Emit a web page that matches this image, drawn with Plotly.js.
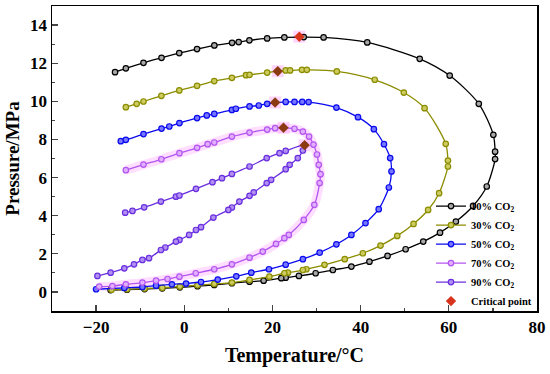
<!DOCTYPE html>
<html>
<head>
<meta charset="utf-8">
<script src="https://cdn.plot.ly/plotly-3.0.1.min.js"></script>
<style>html,body{margin:0;padding:0;background:#fff}#chart{width:550px;height:374px}</style>
</head>
<body>
<div id="chart"></div>
<script>
// 10% CO2
var t10 = [-15.7,-13.25,-9.25,-5.16,-1.14,2.89,6.82,10.84,12.34,14.77,18.8,22.7,27.1,31.6,41.5,53.4,60.2,66.8,70.1,70.5,70.5,68.6,65.5,61.6,58.0,54.2,50.2,46.1,42.0,37.9,33.7,29.8,26.0,23.0,22.0,18.0,14.8,10.8,6.8,3.0,-1.0,-5.0,-9.0,-13.0,-16.7];
var p10 = [11.53,11.73,12.02,12.28,12.53,12.74,12.93,13.07,13.11,13.2,13.3,13.35,13.37,13.35,13.09,12.23,11.35,9.87,8.24,7.36,6.97,5.53,4.51,3.69,3.11,2.64,2.24,1.89,1.59,1.33,1.15,0.98,0.84,0.75,0.72,0.59,0.54,0.46,0.37,0.3,0.24,0.19,0.15,0.12,0.1];
// 30% CO2
var t30 = [-13.25,-10.8,-9.25,-5.2,-1.14,2.9,6.8,10.8,14.0,14.8,18.8,23.0,24.0,26.7,27.8,34.6,43.2,49.8,54.5,59.3,59.8,59.8,57.8,55.3,52.0,48.3,44.5,40.5,36.4,31.8,27.7,26.9,23.5,22.7,19.3,14.8,10.8,6.8,3.0,-1.0,-5.0,-9.0,-13.0,-16.5];
var p30 = [9.69,9.87,9.99,10.29,10.57,10.81,11.06,11.23,11.37,11.39,11.51,11.62,11.62,11.65,11.65,11.57,11.13,10.46,9.64,7.77,6.89,6.58,5.18,4.3,3.57,2.94,2.43,2.03,1.72,1.42,1.19,1.15,1.01,0.98,0.8,0.63,0.49,0.42,0.35,0.28,0.22,0.18,0.14,0.12];
// 50% CO2
var t50 = [-14.4,-13.25,-9.25,-5.16,-3.4,-1.1,2.9,5.1,6.8,10.8,11.7,14.8,16.9,18.8,23.0,25.0,26.75,28.2,34.5,39.4,43.0,45.3,46.7,47.0,46.4,44.1,41.1,37.9,34.5,30.7,26.9,23.0,19.2,15.2,11.8,7.6,3.8,0.4,-2.8,-6.4,-9.5,-13.6,-20];
var p50 = [7.91,7.98,8.28,8.57,8.68,8.86,9.12,9.26,9.34,9.55,9.61,9.73,9.78,9.87,9.97,9.97,9.97,9.96,9.67,9.17,8.54,7.75,7.02,6.32,5.48,4.34,3.61,2.99,2.5,2.06,1.72,1.43,1.19,1.01,0.82,0.65,0.52,0.44,0.4,0.33,0.26,0.21,0.14];
// 70% CO2
var t70 = [-13.25,-9.25,-5.2,-1.1,2.9,5.3,6.8,10.8,14.8,18.8,20.6,25.0,26.9,28.3,29.3,30.1,30.5,30.9,30.7,29.5,27.1,23.7,22.7,20.8,17.8,14.8,10.8,6.8,2.6,-1.1,-3.8,-6.4,-9.5,-13.25,-16.3,-19.3];
var p70 = [6.39,6.68,6.96,7.28,7.56,7.75,7.84,8.15,8.36,8.52,8.59,8.56,8.41,8.15,7.73,7.21,6.67,6.18,5.71,4.57,3.78,2.99,2.82,2.52,2.12,1.8,1.45,1.19,0.98,0.8,0.68,0.59,0.49,0.4,0.31,0.28];
// 90% CO2
var t90 = [-13.4,-11.75,-9.1,-5.3,-1.9,-1.1,2.65,6.4,8.55,10.8,14.8,18.7,21.6,23.0,27.3,26.9,25.75,23.9,23.0,19.7,18.7,15.75,14.8,12.5,10.8,10.0,6.6,3.8,2.65,1.1,-1.1,-1.9,-4.3,-5.3,-8.0,-9.5,-11.4,-13.6,-16.7,-19.7];
var p90 = [4.16,4.25,4.44,4.74,5.0,5.06,5.41,5.76,5.97,6.19,6.58,7.02,7.28,7.4,7.7,7.42,7.02,6.67,6.44,5.88,5.71,5.22,5.04,4.74,4.43,4.3,3.9,3.4,3.25,2.99,2.73,2.64,2.33,2.2,1.77,1.68,1.45,1.24,1.01,0.84];
// Critical points
var tc = [26.1,21.2,20.6,22.5,27.3];
var pc = [13.39,11.58,9.94,8.61,7.7];
var cColors = ['#d8341c','#8b3a12','#8b3a12','#8b3a12','#8b3a12'];

var names = ['10% CO<sub>2</sub>','30% CO<sub>2</sub>','50% CO<sub>2</sub>','70% CO<sub>2</sub>','90% CO<sub>2</sub>'];
var lineColors = ['#000000','#8c8c00','#0a0aee','#b455f0','#6a2ee0'];
var fillColors = ['#a8a8a8','#cccc60','#7878ff','#e0b0ff','#b090f0'];
var Ts = [t10,t30,t50,t70,t90];
var Ps = [p10,p30,p50,p70,p90];

var traces = [];
traces.push({x:t70, y:p70, mode:'lines', line:{color:'rgba(255,160,255,0.35)', width:9, shape:'spline', smoothing:0.8}, showlegend:false, hoverinfo:'skip'});
traces.push({x:tc, y:pc, mode:'markers', marker:{symbol:'square', size:12, color:'rgba(255,150,250,0.4)'}, showlegend:false, hoverinfo:'skip'});
for (var i=0;i<5;i++){
  traces.push({x:Ts[i], y:Ps[i], name:names[i], mode:'lines+markers',
    line:{color:lineColors[i], width:1.3, shape:'spline', smoothing:0.8},
    marker:{symbol:'circle', size:5.5, color:fillColors[i], line:{color:lineColors[i], width:1.2}}});
}
traces.push({x:tc, y:pc, name:'Critical point', mode:'markers',
  marker:{symbol:'diamond', size:8, color:cColors, line:{width:0}}});

var fam = 'Liberation Serif, Times New Roman, serif';
var layout = {
  width:550, height:374,
  margin:{l:52, r:13, t:6, b:63},
  paper_bgcolor:'#fff', plot_bgcolor:'#fff',
  showlegend:true,
  legend:{x:1, xanchor:'right', y:-0.015, yanchor:'bottom', bgcolor:'rgba(0,0,0,0)',
    font:{family:fam, weight:'bold', size:10.5, color:'#000'}, tracegroupgap:0, itemwidth:30},
  xaxis:{range:[-30,80], tick0:0, dtick:20, ticks:'inside', ticklen:6, tickwidth:1.3,
    minor:{dtick:10, ticks:'inside', ticklen:3, tickwidth:1.2},
    showline:true, mirror:true, linewidth:1.5, linecolor:'#000', showgrid:false, zeroline:false,
    tickfont:{family:fam, weight:'bold', size:17, color:'#000'},
    title:{text:'Temperature/°C', font:{family:fam, weight:'bold', size:20, color:'#000'}, standoff:12}},
  yaxis:{range:[-1,15], tick0:0, dtick:2, ticks:'inside', ticklen:6, tickwidth:1.3,
    minor:{dtick:1, ticks:'inside', ticklen:3, tickwidth:1.2},
    showline:true, mirror:true, linewidth:1.5, linecolor:'#000', showgrid:false, zeroline:false,
    tickfont:{family:fam, weight:'bold', size:17, color:'#000'},
    title:{text:'Pressure/MPa', font:{family:fam, weight:'bold', size:19, color:'#000'}, standoff:5}}
};
Plotly.newPlot('chart', traces, layout, {displayModeBar:false, staticPlot:true});
</script>
</body>
</html>
